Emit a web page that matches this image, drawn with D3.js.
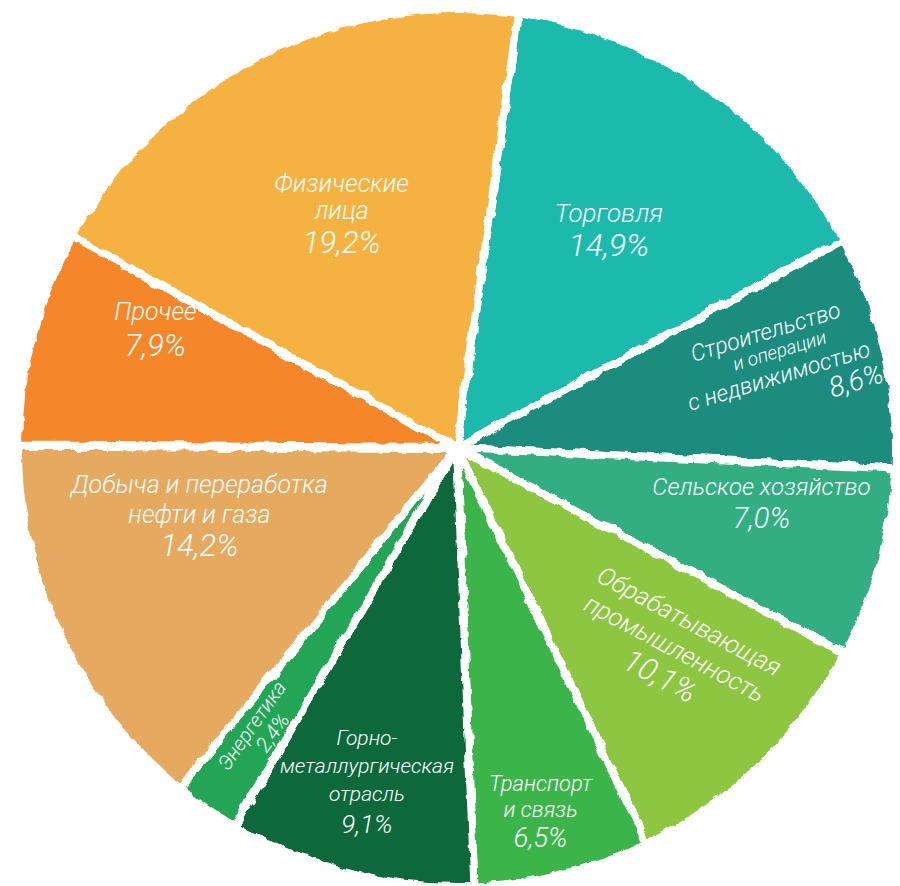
<!DOCTYPE html>
<html>
<head>
<meta charset="utf-8">
<script src="https://cdn.jsdelivr.net/npm/d3@7"></script>
<style>
  body { margin: 0; background: #fff; }
  svg text { font-family: Roboto, "Open Sans", sans-serif; font-style: italic; font-weight: 300; fill: #fff; }
</style>
</head>
<body>
<div class="pie"></div>
<script>
// shares of the loan portfolio by sector, %
const sectors = ['Торговля', 'Строительство и операции с недвижимостью', 'Сельское хозяйство',
  'Обрабатывающая промышленность', 'Транспорт и связь', 'Горно-металлургическая отрасль',
  'Энергетика', 'Добыча и переработка нефти и газа', 'Прочее', 'Физические лица'];
const shares = [14.9, 8.6, 7.0, 10.1, 6.5, 9.1, 2.4, 14.2, 7.9, 19.2];
const sliceColors = ['#1dbaad', '#1a8c7f', '#31ae82', '#8dc63f', '#3ab54a',
  '#0f683a', '#22a655', '#e6a960', '#f5862b', '#f6b23f'];
// label lines as they are broken in the picture
const labelLines = [
  ['Торговля'],
  ['Строительство', 'и операции', 'с недвижимостью'],
  ['Сельское хозяйство'],
  ['Обрабатывающая', 'промышленность'],
  ['Транспорт', 'и связь'],
  ['Горно-', 'металлургическая', 'отрасль'],
  ['Энергетика'],
  ['Добыча и переработка', 'нефти и газа'],
  ['Прочее'],
  ['Физические', 'лица']
];

const width = 900, height = 886;
const cx = 457, cy = 448, R = 439;
const rad = Math.PI / 180;

// where each label block sits: angle offset from slice middle (deg), radius, rotation,
// font size and the local y of every line (the last one is the percentage)
const labelPos = [
  {da: -0.2, r: 267, rot: 0, size: 26, ys: [-15, 16]},
  {da: -3, r: 333, rot: -17, size: 23, ys: [-28, -6, 18, 45], xs: [-4, 4, -4, 96], small: 1},
  {da: -5.5, r: 309, rot: 0, size: 24, ys: [-14, 17]},
  {da: -3.5, r: 296, rot: 28, size: 25, ys: [-31, 0, 31]},
  {da: 1, r: 372, rot: 0, size: 22, ys: [-27, -1, 27]},
  {da: 1, r: 345, rot: 0, size: 21, ys: [-43, -15, 13, 43]},
  {da: 0, r: 345, rot: null, size: 20, ys: [-10, 11], xs: [0, 6], pct: 21},
  {da: 10.8, r: 266, rot: 0, size: 25, ys: [-30, 0, 31]},
  {da: 7.3, r: 325, rot: 0, size: 25, ys: [-16, 18]},
  {da: 0.5, r: 262, rot: 0, size: 25, ys: [-29, -2, 29]}
];

const fmt = v => d3.format('.1f')(v).replace('.', ',') + '%';

const svg = d3.select('.pie')
  .append('svg')
  .attr('width', width)
  .attr('height', height);

// rough, hand-painted edges
const f = svg.append('defs').append('filter')
  .attr('id', 'rough')
  .attr('x', '-5%').attr('y', '-5%')
  .attr('width', '110%').attr('height', '110%');
f.append('feTurbulence')
  .attr('type', 'fractalNoise')
  .attr('baseFrequency', 0.06)
  .attr('numOctaves', 3)
  .attr('seed', 4)
  .attr('result', 'noise');
f.append('feDisplacementMap')
  .attr('in', 'SourceGraphic')
  .attr('in2', 'noise')
  .attr('scale', 7)
  .attr('xChannelSelector', 'R')
  .attr('yChannelSelector', 'G');

const start = 8 * rad;
const pie = d3.pie().sort(null).value(d => d)
  .startAngle(start).endAngle(start + 2 * Math.PI);
const arcs = pie(shares);

const arc = d3.arc().innerRadius(0).outerRadius(R);

const g = svg.append('g')
  .attr('transform', `translate(${cx},${cy})`);

g.append('g')
  .attr('filter', 'url(#rough)')
  .selectAll('path')
  .data(arcs)
  .enter()
  .append('path')
  .attr('d', arc)
  .attr('fill', (d, i) => sliceColors[i])
  .attr('stroke', '#fff')
  .attr('stroke-width', 8)
  .attr('stroke-linejoin', 'round');

const labels = g.selectAll('g.lbl')
  .data(arcs)
  .enter()
  .append('g')
  .attr('class', 'lbl')
  .attr('transform', (d, i) => {
    const p = labelPos[i];
    const mid = (d.startAngle + d.endAngle) / 2;
    const a = mid + p.da * rad;
    const x = p.r * Math.sin(a), y = -p.r * Math.cos(a);
    const rot = p.rot === null ? mid / rad - 270 : p.rot;
    return `translate(${x},${y}) rotate(${rot})`;
  });

labels.each(function(d, i) {
  const p = labelPos[i];
  const lines = labelLines[i].concat([fmt(shares[i])]);
  const sel = d3.select(this);
  lines.forEach((t, k) => {
    const isPct = k === lines.length - 1;
    let size = p.size;
    if (p.small && k === 1) size = p.size - 4;
    if (isPct) size = p.pct || Math.round(p.size * 1.22);
    sel.append('text')
      .attr('x', p.xs ? p.xs[k] : 0)
      .attr('y', p.ys[k])
      .attr('dy', '0.35em')
      .attr('text-anchor', (p.xs && isPct && p.small) ? 'end' : 'middle')
      .attr('font-size', size)
      .text(t);
  });
});
</script>
</body>
</html>
